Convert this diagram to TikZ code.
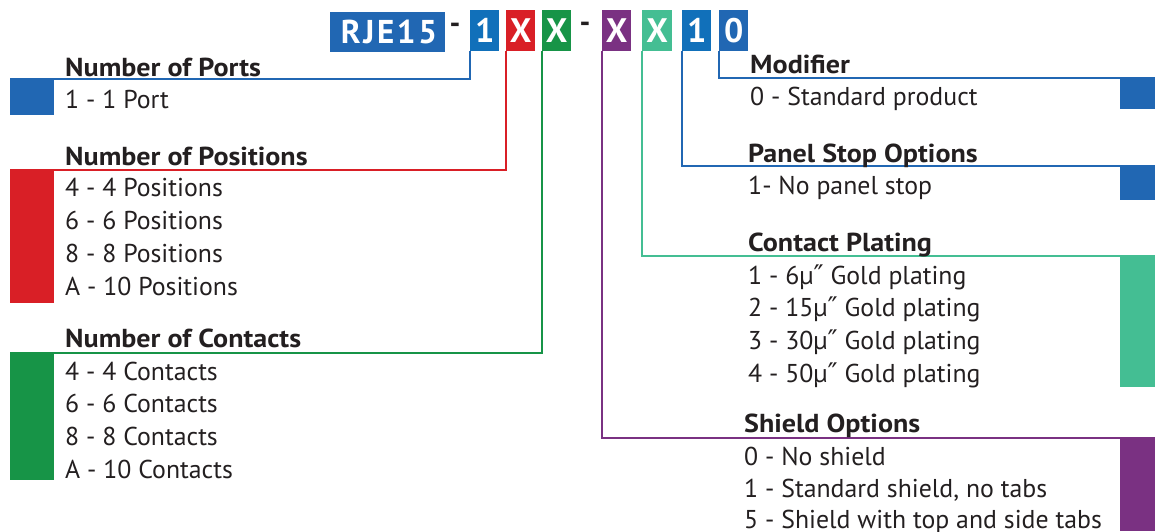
\documentclass[tikz,border=0pt]{standalone}
\usepackage{fontspec}
\setmainfont{PT Sans}
\newfontfamily\headfont[FakeStretch=1.08]{PT Sans Bold}
\newfontfamily\codefont[LetterSpace=8]{PT Sans Bold}
\newfontfamily\dvfont{DejaVu Sans}
\newcommand{\dprime}{{\dvfont\fontsize{27}{27}\selectfont ″}}
\definecolor{cBlue}{HTML}{2167B3}
\definecolor{cBlueB}{HTML}{1170BA}
\definecolor{cRed}{HTML}{D91F26}
\definecolor{cGreen}{HTML}{179447}
\definecolor{cPurple}{HTML}{7A3182}
\definecolor{cTeal}{HTML}{44BE93}
\definecolor{cText}{HTML}{231F20}
\begin{document}
\begin{tikzpicture}[x=1pt,y=-1pt,
  codebox/.style={fill=#1, text=white, font=\fontsize{34}{34}\selectfont\bfseries,
    inner sep=0pt, minimum height=41pt, minimum width=29pt, anchor=north west},
  hyph/.style={text=cText, font=\fontsize{30}{30}\selectfont\bfseries, inner sep=0pt},
  head/.style={anchor=base west, inner sep=0pt, text=cText, font=\headfont\fontsize{26}{26}\selectfont},
  entry/.style={anchor=base west, inner sep=0pt, text=cText, font=\fontsize{25.8}{25.8}\selectfont},
  sq/.style={fill=#1, draw=none, inner sep=0pt, minimum width=44pt, anchor=north west},
  sqr/.style={fill=#1, draw=none, inner sep=0pt, minimum width=35pt, anchor=north east},
  ln/.style={draw=#1, line width=2.5pt}
]
\useasboundingbox (0,0) rectangle (1155,531);
% code boxes
\node[codebox=cBlue, minimum width=115pt, minimum height=40pt, anchor=north west,
  font=\codefont\fontsize{33}{33}\selectfont] (bRJE) at (330,12) {RJE15\kern-2.6pt};
\node[hyph] (h1) at (455,28) {-};
\node[codebox=cBlueB] (bP) at (470,10) {1};
\node[codebox=cRed] (bPos) at (506,10) {X};
\node[codebox=cGreen] (bC) at (542,10) {X};
\node[hyph] (h2) at (585,27) {-};
\node[codebox=cPurple] (bS) at (602,10) {X};
\node[codebox=cTeal, minimum width=30pt] (bPl) at (642,10) {X};
\node[codebox=cBlueB] (bPS) at (682,10) {1};
\node[codebox=cBlue] (bM) at (719,10) {0};
% left squares
\node[sq=cBlue, minimum height=36pt] (sqP) at (10,79) {};
\node[sq=cRed, minimum height=133pt] (sqPos) at (10,170) {};
\node[sq=cGreen, minimum height=127pt] (sqC) at (10,353) {};
% right squares
\node[sqr=cBlue, minimum height=31pt] (sqM) at (1155,78) {};
\node[sqr=cBlue, minimum height=34pt] (sqPS) at (1155,166) {};
\node[sqr=cTeal, minimum height=131pt] (sqPl) at (1155,256) {};
\node[sqr=cPurple, minimum height=93pt] (sqS) at (1155,438) {};
% connectors
\draw[ln=cBlue] (bP.south west) |- (sqP.north west);
\draw[ln=cRed] (bPos.south west) |- (sqPos.north west);
\draw[ln=cGreen] (bC.south west) |- (sqC.north west);
\draw[ln=cPurple] (bS.south west) |- (sqS.north east);
\draw[ln=cTeal] (bPl.south west) |- (sqPl.north east);
\draw[ln=cBlue] (bPS.south west) |- (sqPS.north east);
\draw[ln=cBlue] (bM.south west) |- (sqM.north east);
% left texts
\node[head] (tP) at (65,76) {Number of Ports};
\node[entry] (tP1) at (65,108) {1 - 1 Port};
\node[head] (tPos) at (65,165) {Number of Positions};
\node[entry] (tPos1) at (65,196) {4 - 4 Positions};
\node[entry] (tPos2) at (65,229) {6 - 6 Positions};
\node[entry] (tPos3) at (65,262) {8 - 8 Positions};
\node[entry] (tPos4) at (65,295) {A - 10 Positions};
\node[head] (tC) at (65,347) {Number of Contacts};
\node[entry] (tC1) at (65,380) {4 - 4 Contacts};
\node[entry] (tC2) at (65,412) {6 - 6 Contacts};
\node[entry] (tC3) at (65,445) {8 - 8 Contacts};
\node[entry] (tC4) at (65,478) {A - 10 Contacts};
% right texts
\node[head] (tM) at (750,73) {Modifier};
\node[entry] (tM1) at (750,105) {0 - Standard product};
\node[head] (tPS) at (748,162) {Panel Stop Options};
\node[entry] (tPS1) at (748,194) {1- No panel stop};
\node[head] (tPl) at (748,251) {Contact Plating};
\node[entry] (tPl1) at (748,284) {1 - 6µ\dprime\ Gold plating};
\node[entry] (tPl2) at (748,316) {2 - 15µ\dprime\ Gold plating};
\node[entry] (tPl3) at (748,349) {3 - 30µ\dprime\ Gold plating};
\node[entry] (tPl4) at (748,382) {4 - 50µ\dprime\ Gold plating};
\node[head] (tS) at (744,432) {Shield Options};
\node[entry] (tS1) at (744,465) {0 - No shield};
\node[entry] (tS2) at (744,497) {1 - Standard shield, no tabs};
\node[entry] (tS3) at (744,528) {5 - Shield with top and side tabs};
\end{tikzpicture}
\end{document}
